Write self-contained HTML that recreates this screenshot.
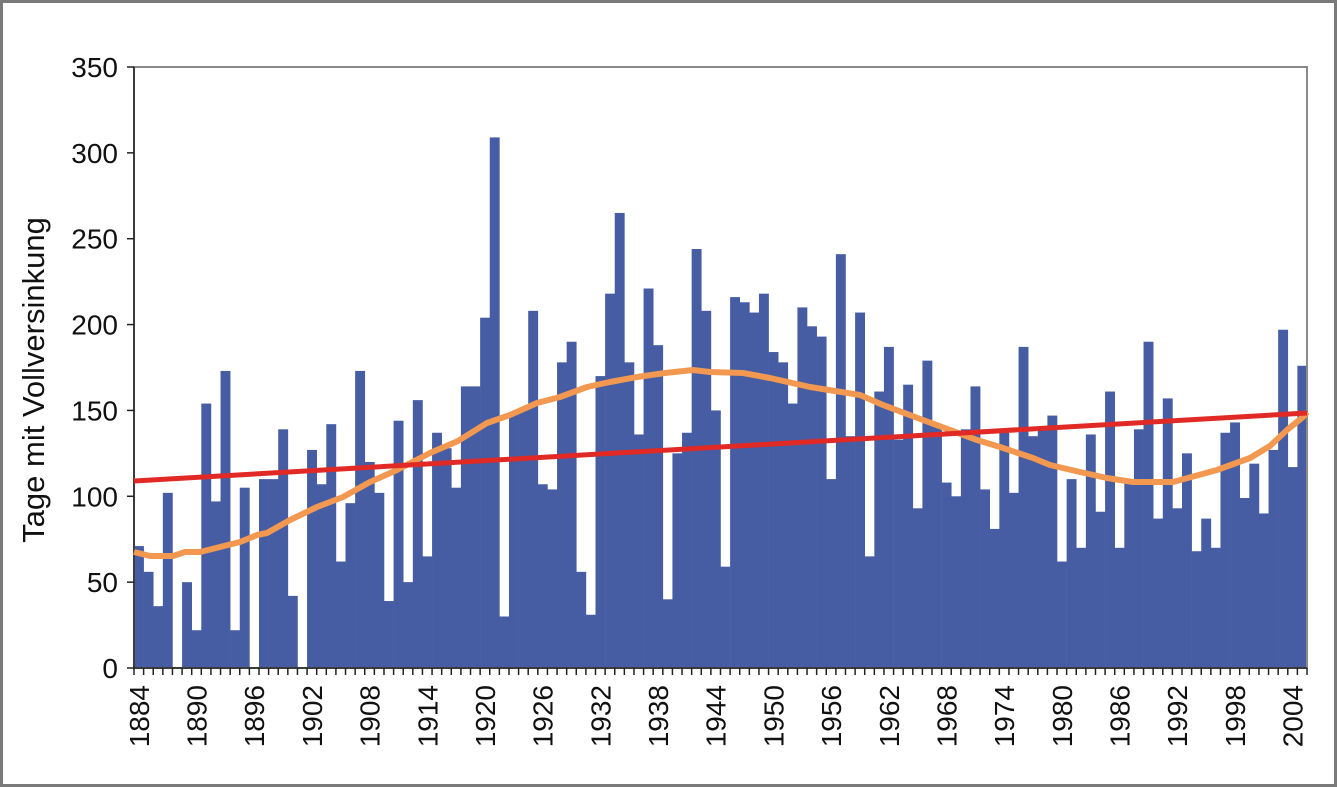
<!DOCTYPE html>
<html><head><meta charset="utf-8"><style>
html,body{margin:0;padding:0;background:#fff}
svg{display:block}
text{font-family:"Liberation Sans",Arial,sans-serif;fill:#111}
</style></head><body>
<svg id="s" width="1337" height="787" xmlns="http://www.w3.org/2000/svg">
<rect x="1.5" y="1.5" width="1334" height="784" fill="#fff" stroke="#7a7a7a" stroke-width="3"/>
<g id="bars" fill="#465da3"></g>
<rect x="134" y="67" width="1173" height="601" fill="none" stroke="#8a8a8a" stroke-width="2"/>
<g id="ax" stroke="#222" stroke-width="1.5"></g>
<g id="lab" font-size="28"></g>
<polyline fill="none" stroke="#f39850" stroke-width="6" stroke-linejoin="round" points="134,552 150,556 173,556 185,552 200,552 240,542 257,535 267,533 290,520 317,507 343,497 370,482 397,470 430,453 458,441 487,423 510,415 537,403 560,397 587,387 610,382 637,377 665,373 693,370 710,372 743,373 770,378 810,387 860,395 883,405 923,420 950,430 977,440 1000,447 1033,458 1050,465 1080,472 1107,478 1133,482 1173,482 1217,470 1250,458 1270,446 1287,430 1303,417 1307,412"/>
<line x1="134" y1="481" x2="1307" y2="413" stroke="#e12a25" stroke-width="5"/>
<text transform="translate(44,380) rotate(-90)" text-anchor="middle" font-size="31">Tage mit Vollversinkung</text>
</svg>
<script>
var v=[71,56,36,102,0,50,22,154,97,173,22,105,0,110,110,139,42,0,127,107,142,62,96,173,120,102,39,144,50,156,65,137,128,105,164,164,204,309,30,148,150,208,107,104,178,190,56,31,170,218,265,178,136,221,188,40,125,137,244,208,150,59,216,213,207,218,184,178,154,210,199,193,110,241,135,207,65,161,187,133,165,93,179,141,108,100,139,164,104,81,137,102,187,135,139,147,62,110,70,136,91,161,70,110,139,190,87,157,93,125,68,87,70,137,143,99,119,90,127,197,117,176];
var NS="http://www.w3.org/2000/svg",x0=134,w=1173/v.length,k=601/350;
function el(t,a,p){var e=document.createElementNS(NS,t);for(var i in a)e.setAttribute(i,a[i]);p.appendChild(e);return e;}
var b=document.getElementById('bars'),ax=document.getElementById('ax'),lb=document.getElementById('lab');
v.forEach(function(d,i){if(d>0)el('rect',{x:x0+i*w,y:668-d*k,width:w+0.3,height:d*k},b);});
el('line',{x1:134,y1:67,x2:134,y2:668},ax);el('line',{x1:134,y1:668,x2:1307,y2:668},ax);
for(var j=0;j<=7;j++){var y=668-j*50*k;el('line',{x1:127,y1:y,x2:134,y2:y},ax);var t=el('text',{x:118,y:y+10,'text-anchor':'end'},lb);t.textContent=j*50;}
for(var i=0;i<=v.length;i++){var x=x0+i*w;el('line',{x1:x,y1:668,x2:x,y2:675},ax);}
for(var yr=1884;yr<=2004;yr+=6){var i=yr-1884,x=x0+(i+0.5)*w;var t=el('text',{transform:'translate('+(x+10)+',685) rotate(-90)','text-anchor':'end'},lb);t.textContent=yr;}
</script>
</body></html>
